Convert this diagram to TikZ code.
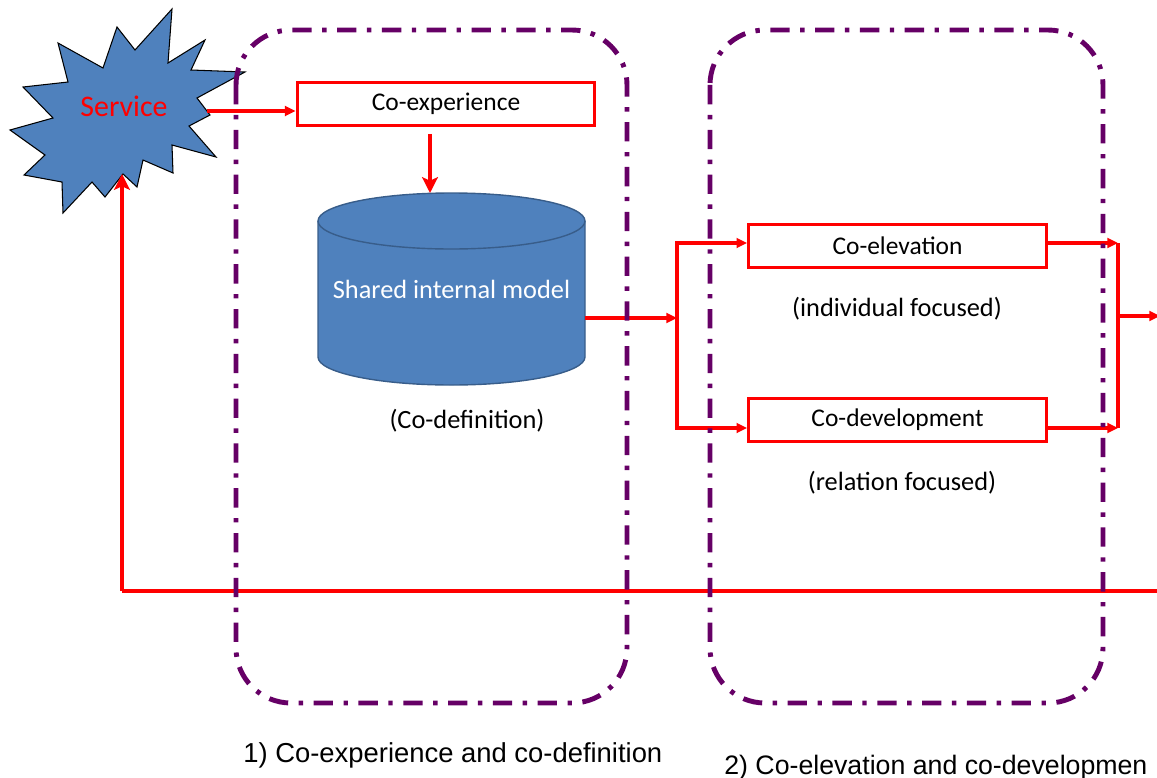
\documentclass[tikz,border=0pt]{standalone}
\usepackage{fontspec}
\setmainfont{Carlito}
\newfontfamily\arialfont{Liberation Sans}
\usetikzlibrary{arrows.meta}
\definecolor{phasepurple}{RGB}{102,0,102}
\definecolor{modelblue}{RGB}{79,129,189}
\definecolor{modeledge}{RGB}{56,93,138}
\definecolor{flowred}{RGB}{255,0,0}

\begin{document}
\begin{tikzpicture}[x=0.02cm, y=0.02cm,
    flow/.style={draw=flowred, line width=1.8pt},
    flowarrow/.style={flow, -{Triangle[length=6pt,width=5.5pt]}},
    bigarrow/.style={draw=flowred, line width=2.3pt, -{Stealth[length=9pt,width=9pt,inset=2pt]}},
    stepbox/.style={draw=flowred, line width=1.7pt, fill=white, minimum width=5.96cm, minimum height=0.86cm, inner sep=0pt, font=\fontsize{14.5}{17}\selectfont},
    phase/.style={draw=phasepurple, line width=2.8pt, rounded corners=1.1cm, dash pattern=on 11pt off 6pt on 2.5pt off 6pt},
    note/.style={font=\fontsize{15}{18}\selectfont},
    caption/.style={font=\arialfont\fontsize{15.6}{18}\selectfont, anchor=base west, inner sep=0pt}]
    \useasboundingbox (0,0) rectangle (1157,-778);
    \clip (0,0) rectangle (1157,-778);

    % service burst
    \filldraw[fill=modelblue, draw=black, line width=0.6pt]
      (172,-9) -- (168,-63) -- (205,-40) -- (191,-70) -- (245,-72) -- (197,-98)
      -- (210,-115) -- (189,-126) -- (216,-157) -- (172,-145) -- (173,-173)
      -- (143,-160) -- (137,-187) -- (123,-174) -- (105,-197) -- (92,-182)
      -- (63,-213) -- (62,-182) -- (24,-175) -- (45,-155) -- (10,-130)
      -- (53,-118) -- (23,-87) -- (68,-82) -- (58,-43) -- (103,-68)
      -- (117,-27) -- (135,-50) -- cycle;
    \node[text=flowred, font=\fontsize{17}{20}\selectfont] (service) at (124,-106) {Service};
    \coordinate (srvout) at (207,-111);
    \coordinate (srvin) at (122,-174);

    % shared internal model
    \filldraw[fill=modelblue, draw=modeledge, line width=0.8pt]
      (318,-221) -- (318,-357) arc[start angle=180, end angle=360, x radius=133.5, y radius=28]
      -- (585,-221) arc[start angle=0, end angle=180, x radius=133.5, y radius=28] -- cycle;
    \draw[modeledge, line width=0.8pt] (318,-221) arc[start angle=180, end angle=360, x radius=133.5, y radius=28];
    \node[text=white, font=\fontsize{15}{18}\selectfont] (model) at (451.5,-289) {Shared internal model};
    \coordinate (modeltop) at (430,-193);
    \coordinate (modelout) at (585,-318);
    \node[note] (codef) at (467,-421) {(Co-definition)};

    % steps
    \node[stepbox] (coexp) at (446,-104) {\raisebox{-1.5pt}{Co-experience}};
    \node[stepbox] (coelev) at (897.5,-246) {\raisebox{-1.5pt}{Co-elevation}};
    \node[note] (indiv) at (897,-309) {(individual focused)};
    \node[stepbox] (codev) at (897.5,-420) {\raisebox{-1.5pt}{Co-development}};
    \node[note] (relat) at (902,-483) {(relation focused)};

    \coordinate (split) at (677,-318);
    \coordinate (joinup) at (1118,-243);
    \coordinate (joindown) at (1118,-428);
    \coordinate (joinmid) at (1118,-316);
    \coordinate (outright) at (1160,-316);
    \coordinate (backright) at (1160,-591);
    \coordinate (backleft) at (122,-591);

    % connectors
    \draw[flowarrow] (srvout) -- (srvout -| coexp.west);
    \draw[bigarrow] ([yshift=-0.14cm]modeltop |- coexp.south) -- (modeltop);
    \draw[flowarrow] (modelout) -- (split);
    \draw[flowarrow] (split) |- (coelev.west |- joinup);
    \draw[flowarrow] (split) |- (codev.west |- joindown);
    \draw[flowarrow] (coelev.east |- joinup) -- (joinup);
    \draw[flowarrow] (codev.east |- joindown) -- (joindown);
    \draw[flow] (joinup) -- (joindown);
    \draw[flowarrow] (joinmid) -- (outright);
    \draw[flow] (backright) -- (backleft);
    \draw[bigarrow] (backleft) -- (srvin);

    % phases
    \draw[phase] (236,-30) rectangle (627,-703);
    \draw[phase] (710,-30) rectangle (1103,-703);
    \node[caption] (phaseone) at (243,-762) {1) Co-experience and co-definition};
    \node[caption, font=\arialfont\fontsize{15.2}{18}\selectfont] (phasetwo) at (724,-774) {2) Co-elevation and co-developmen};
\end{tikzpicture}
\end{document}
